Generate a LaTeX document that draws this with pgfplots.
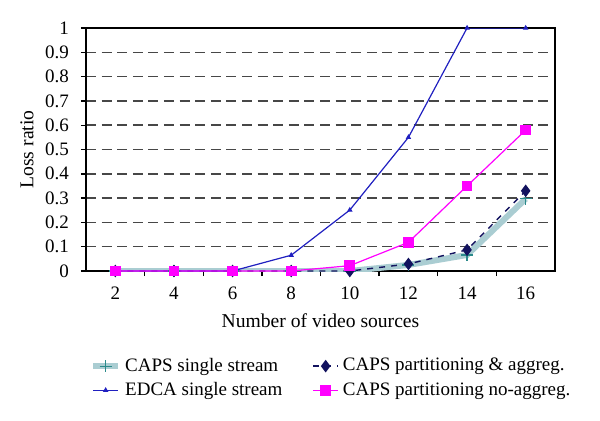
\documentclass[border=0pt]{standalone}
\usepackage{fontspec}
\setmainfont{Liberation Serif}
\usepackage{pgfplots}
\pgfplotsset{compat=1.18}
\definecolor{capsband}{HTML}{AACDD2}
\definecolor{capsmark}{HTML}{2A8A8A}
\definecolor{edca}{HTML}{2020C0}
\definecolor{navyd}{HTML}{12125E}
\definecolor{mag}{HTML}{FF00FF}
\begin{document}
\begin{tikzpicture}
\useasboundingbox (-43pt,-74.5pt) rectangle (257pt,135.5pt);
\begin{axis}[
  scale only axis,
  width=234.5pt, height=121.5pt,
  xmin=1, xmax=17, ymin=0, ymax=1,
  xtick={2,4,...,16},
  minor xtick={3,5,...,15},
  major x tick style={draw=none},
  minor x tick style={black},
  minor tick length=2.5pt,
  major tick length=2.5pt,
  tick align=outside,
  xtick pos=bottom, ytick pos=left,
  ytick={0,0.1,0.2,0.3,0.4,0.5,0.6,0.7,0.8,0.9,1},
  yticklabels={0,0.1,0.2,0.3,0.4,0.5,0.6,0.7,0.8,0.9,1},
  /pgf/number format/assume math mode=true,
  ymajorgrids,
  major grid style={black!72, dash pattern=on 5pt off 2.8pt, line width=0.75pt},
  axis line style={line width=0.7pt},
  tick style={line width=0.7pt, black},
  tick label style={font=\fontsize{9.5}{12}\selectfont},
  xticklabel style={yshift=-2pt},
  yticklabel style={xshift=-2.5pt},
  xlabel={Number of video sources},
  ylabel={Loss ratio},
  label style={font=\fontsize{9.8}{12}\selectfont},
  xlabel style={yshift=0pt},
  ylabel style={yshift=-1pt},
  legend columns=2,
  legend image code/.code={\draw[mark repeat=2,mark phase=2] plot coordinates {(0cm,0cm) (0.22cm,0cm) (0.44cm,0cm)};},
  legend style={draw=none, fill=none, at={(0.008,-0.34)}, anchor=north west,
    font=\fontsize{9.5}{11}\selectfont, inner sep=0pt,
    nodes={inner sep=2pt},
    /tikz/every even column/.append style={column sep=13pt},
    row sep=0pt},
  legend cell align=left,
]
\addplot[capsband, line width=3pt, mark=+, mark size=3pt,
  mark options={draw=capsmark, line width=0.6pt}]
  coordinates {(2,0) (4,0) (6,0) (8,0) (10,0) (12,0.025) (14,0.066) (16,0.297)};
\addlegendentry{CAPS single stream}
\addplot[navyd, dashed, line width=0.7pt, mark=diamond*, mark size=2.6pt,
  mark options={solid, fill=navyd}]
  coordinates {(2,0) (4,0) (6,0) (8,0) (10,0) (12,0.029) (14,0.087) (16,0.33)};
\addlegendentry{CAPS partitioning \& aggreg.}
\addplot[edca, line width=0.6pt, mark=triangle*, mark size=1pt]
  coordinates {(2,0) (4,0) (6,0) (8,0.065) (10,0.251) (12,0.55) (14,1) (16,1)};
\addlegendentry{EDCA single stream}
\addplot[mag, line width=0.6pt, mark=square*, mark size=2.4pt, mark options={fill=mag}]
  coordinates {(2,0) (4,0) (6,0) (8,0) (10,0.022) (12,0.118) (14,0.35) (16,0.58)};
\addlegendentry{CAPS partitioning no-aggreg.}
\end{axis}
\end{tikzpicture}
\end{document}
